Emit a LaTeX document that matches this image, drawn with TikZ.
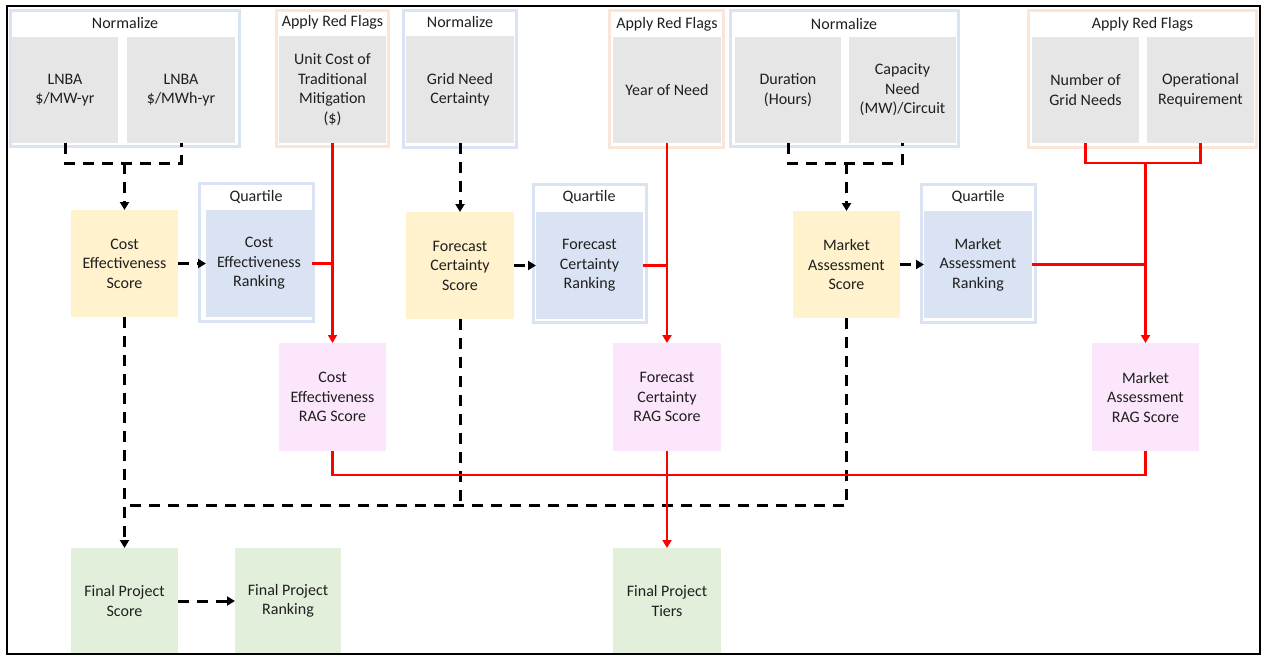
\documentclass[tikz,border=0pt]{standalone}
\usepackage{fontspec}
\setmainfont{Carlito}
\usetikzlibrary{arrows.meta}
\definecolor{inpgray}{HTML}{E7E6E6}
\definecolor{grpblue}{HTML}{DAE3F3}
\definecolor{grporange}{HTML}{FBE5D6}
\definecolor{scoreyel}{HTML}{FFF2CC}
\definecolor{rankblue}{HTML}{DAE3F3}
\definecolor{ragpink}{HTML}{FCE6FC}
\definecolor{finalgreen}{HTML}{E2EFDA}
\definecolor{txt}{HTML}{1F1F1F}
\definecolor{redline}{HTML}{FF0000}
\newcommand\rectnode[7]{\node[#2, minimum width={(#5-#3)*1pt}, minimum height={(#6-#4)*1pt}] (#1) at ({(#3+#5)/2},{(#4+#6)/2}) {#7};}
\newcommand\framenode[6]{\node[#2, minimum width={(#5-#3-3)*1pt}, minimum height={(#6-#4-3)*1pt}] (#1) at ({(#3+#5)/2},{(#4+#6)/2}) {};}
\begin{document}
\begin{tikzpicture}[x=1pt,y=-1pt,
  every node/.style={font=\fontsize{16}{19.5}\selectfont, text=txt, align=center, inner sep=0pt, outer sep=0pt},
  inp/.style={fill=inpgray},
  score/.style={fill=scoreyel},
  rank/.style={fill=rankblue},
  rag/.style={fill=ragpink},
  final/.style={fill=finalgreen},
  gblue/.style={draw=grpblue, line width=3pt},
  gorange/.style={draw=grporange, line width=3pt},
  dsh/.style={draw=black, line width=3pt, dash pattern=on 11pt off 8pt},
  red/.style={draw=redline, line width=2.6pt},
  arr/.style={-{Triangle[length=8pt,width=9pt]}},
]
\useasboundingbox (0,0) rectangle (1263,656);
% group frames
\framenode{g1}{gblue}{9}{9}{241}{148}
\framenode{g2}{gorange}{275}{9}{390}{148}
\framenode{g3}{gblue}{402}{9}{518}{149}
\framenode{g4}{gorange}{608}{9}{725}{149}
\framenode{g5}{gblue}{729}{9}{960}{148}
\framenode{g6}{gorange}{1027}{9}{1258}{149}
\framenode{q1}{gblue}{198}{182}{315}{323}
\framenode{q2}{gblue}{532}{183}{648}{324}
\framenode{q3}{gblue}{920}{183}{1037}{324}
% titles
\node (t1) at (125,23) {Normalize};
\node (t2) at (332.5,22) {Apply Red Flags};
\node (t3) at (460,22) {Normalize};
\node (t4) at (667,24) {Apply Red Flags};
\node (t5) at (844,24) {Normalize};
\node (t6) at (1142.5,24) {Apply Red Flags};
\node (tq1) at (256,197) {Quartile};
\node (tq2) at (589,197) {Quartile};
\node (tq3) at (978,197) {Quartile};
% inputs
\rectnode{lnbaA}{inp}{12}{37}{118}{143}{LNBA\\\$/MW-yr}
\rectnode{lnbaB}{inp}{127}{37}{235}{143}{LNBA\\\$/MWh-yr}
\rectnode{unitcost}{inp}{279}{36}{386}{143}{Unit Cost of\\Traditional\\Mitigation\\(\$)}
\rectnode{gridneed}{inp}{406}{36}{514}{143}{Grid Need\\Certainty}
\rectnode{year}{inp}{613}{37}{721}{143}{Year of Need}
\rectnode{duration}{inp}{735}{37}{841}{143}{Duration\\(Hours)}
\rectnode{capacity}{inp}{849}{37}{956}{143}{Capacity\\Need\\(MW)/Circuit}
\rectnode{number}{inp}{1032}{37}{1139}{143}{Number of\\Grid Needs}
\rectnode{operational}{inp}{1147}{37}{1254}{143}{Operational\\Requirement}
% scores and rankings
\rectnode{ces}{score}{71}{210}{178}{317}{Cost\\Effectiveness\\Score}
\rectnode{cer}{rank}{206}{210}{312}{317}{Cost\\Effectiveness\\Ranking}
\rectnode{fcs}{score}{406}{212}{514}{319}{Forecast\\Certainty\\Score}
\rectnode{fcr}{rank}{536}{212}{643}{319}{Forecast\\Certainty\\Ranking}
\rectnode{mas}{score}{793}{211}{900}{318}{Market\\Assessment\\Score}
\rectnode{mar}{rank}{924}{211}{1032}{318}{Market\\Assessment\\Ranking}
% RAG
\rectnode{cerag}{rag}{279}{343}{386}{451}{Cost\\Effectiveness\\RAG Score}
\rectnode{fcrag}{rag}{613}{343}{721}{451}{Forecast\\Certainty\\RAG Score}
\rectnode{marag}{rag}{1092}{343}{1199}{451}{Market\\Assessment\\RAG Score}
% finals
\rectnode{fps}{final}{71}{548}{178}{654}{Final Project\\Score}
\rectnode{fpr}{final}{235}{548}{341}{654}{Final Project\\Ranking}
\rectnode{fpt}{final}{613}{548}{721}{654}{Final Project\\Tiers}
% junction coordinates
\coordinate (b1) at (124.5,163);
\coordinate (b3) at (846.5,163);
\coordinate (b5) at (1145.5,163);
\coordinate (h) at (124.5,505);
% black dashed connectors
\draw[dsh] (lnbaA.south) |- (b1) -| (lnbaB.south);
\draw[dsh,arr] (b1) -- (ces.north);
\draw[dsh,arr] (gridneed.south) -- (fcs.north);
\draw[dsh] (duration.south) |- (b3) -| (capacity.south);
\draw[dsh,arr] (b3) -- (mas.north);
\draw[dsh,arr] (ces.east) -- (cer.west);
\draw[dsh,arr] (fcs.east) -- (fcr.west);
\draw[dsh,arr] (mas.east) -- (mar.west);
\draw[dsh] (mas.south) |- (h);
\draw[dsh] (fcs.south) -- (fcs.south |- h);
\draw[dsh,arr] (ces.south) -- (fps.north);
\draw[dsh,arr] (fps.east) -- (fpr.west);
% red connectors
\draw[red,arr] (unitcost.south) -- (cerag.north);
\draw[red] (cer.east) -- (cerag.north |- cer.east);
\draw[red,arr] (year.south) -- (fcrag.north);
\draw[red] (fcr.east) -- (fcrag.north |- fcr.east);
\draw[red] (number.south) |- (b5) -| (operational.south);
\draw[red,arr] (b5) -- (marag.north);
\draw[red] (mar.east) -- (marag.north |- mar.east);
\draw[red] (cerag.south) -- ++(0,24) -| (marag.south);
\draw[red,arr] (fcrag.south) -- (fpt.north);
% outer frame
\draw[black, line width=2pt] (7,6) rectangle (1260,654);
\end{tikzpicture}
\end{document}
